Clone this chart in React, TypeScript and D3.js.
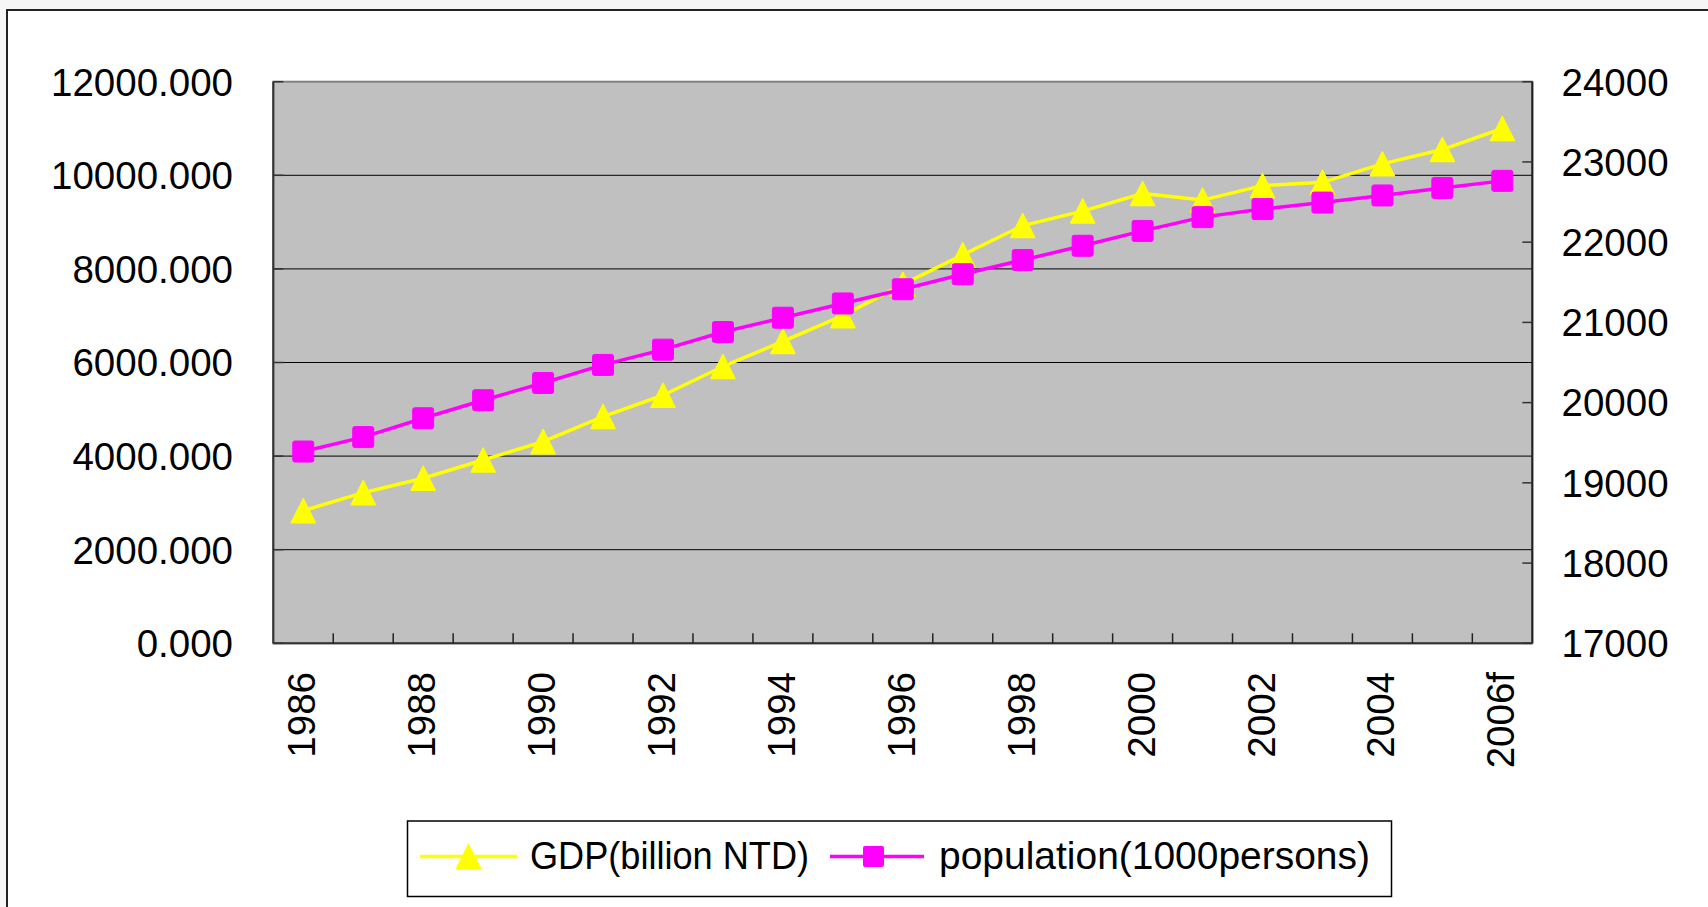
import React from "react";
import * as d3 from "d3";

const years = ["1986","1987","1988","1989","1990","1991","1992","1993","1994","1995","1996","1997","1998","1999","2000","2001","2002","2003","2004","2005","2006f"];
const gdp = [2833, 3218, 3526, 3917, 4308, 4845, 5300, 5915, 6450, 7000, 7670, 8300, 8925, 9235, 9610, 9470, 9780, 9850, 10245, 10550, 11000];
const population = [19390, 19570, 19805, 20030, 20245, 20470, 20660, 20880, 21058, 21236, 21413, 21600, 21777, 21955, 22140, 22312, 22412, 22493, 22582, 22676, 22764];
const leftTicks = [0, 2000, 4000, 6000, 8000, 10000, 12000];
const rightTicks = [17000, 18000, 19000, 20000, 21000, 22000, 23000, 24000];
const shownYears = ["1986","1988","1990","1992","1994","1996","1998","2000","2002","2004","2006f"];
const seriesNames = ["GDP(billion NTD)", "population(1000persons)"];

const W = 1708, H = 907;
const PL = 273.3, PR = 1532.3, PT = 81.7, PB = 643.3;
const FONT = "'Liberation Sans', Arial, sans-serif";

function triPath(cx: number, cy: number) {
  const w = 24, h = 24;
  return `M${cx},${cy - h / 2}L${cx + w / 2},${cy + h / 2}L${cx - w / 2},${cy + h / 2}Z`;
}

export default function App() {
  const x = d3.scaleBand<string>().domain(years).range([PL, PR]);
  const xc = (y: string) => (x(y) as number) + x.bandwidth() / 2;
  const yL = d3.scaleLinear().domain([0, 12000]).range([PB, PT]);
  const yR = d3.scaleLinear().domain([17000, 24000]).range([PB, PT]);

  const gdpLine = d3.line<number>().x((_, i) => xc(years[i])).y((d) => yL(d))(gdp) || "";
  const popLine = d3.line<number>().x((_, i) => xc(years[i])).y((d) => yR(d))(population) || "";

  const boundaries = years.map((y) => x(y) as number).slice(1);

  return (
    <svg width={W} height={H} style={{ position: "absolute", left: 0, top: 0, display: "block" }} fontFamily={FONT}>
      <rect x={0} y={0} width={W} height={H} fill="#f6f6f6" />
      <rect x={7} y={10} width={W + 20} height={H + 20} fill="#ffffff" stroke="#222" strokeWidth={2} />

      {/* plot area */}
      <rect x={PL} y={PT} width={PR - PL} height={PB - PT} fill="#c0c0c0" stroke="#808080" strokeWidth={2} />
      {leftTicks.slice(1, -1).map((t) => (
        <line key={"g" + t} x1={PL} x2={PR} y1={yL(t)} y2={yL(t)} stroke="#000" strokeWidth={1} />
      ))}

      {/* axes */}
      <line x1={PL} x2={PL} y1={PT} y2={PB} stroke="#333" strokeWidth={2} />
      <line x1={PR} x2={PR} y1={PT} y2={PB} stroke="#222" strokeWidth={2} />
      <line x1={PL} x2={PR} y1={PB} y2={PB} stroke="#333" strokeWidth={2} />
      {leftTicks.map((t) => (
        <line key={"lt" + t} x1={PL} x2={PL + 10} y1={yL(t)} y2={yL(t)} stroke="#333" strokeWidth={1.5} />
      ))}
      {rightTicks.map((t) => (
        <line key={"rt" + t} x1={PR - 10} x2={PR} y1={yR(t)} y2={yR(t)} stroke="#333" strokeWidth={1.5} />
      ))}
      {boundaries.map((b, i) => (
        <line key={"xt" + i} x1={b} x2={b} y1={PB - 10} y2={PB} stroke="#222" strokeWidth={1.5} />
      ))}

      {/* axis labels */}
      {leftTicks.map((t) => (
        <text key={"ll" + t} x={233} y={yL(t)} dy="0.36em" textAnchor="end" fontSize={38.5} fill="#000">
          {d3.format(".3f")(t)}
        </text>
      ))}
      {rightTicks.map((t) => (
        <text key={"rl" + t} x={1561.5} y={yR(t)} dy="0.36em" textAnchor="start" fontSize={38.5} fill="#000">
          {String(t)}
        </text>
      ))}
      {shownYears.map((yv) => (
        <text key={"xl" + yv} transform={`translate(${xc(yv) + 12},672) rotate(-90)`} textAnchor="end" fontSize={38.5} fill="#000">
          {yv}
        </text>
      ))}

      {/* GDP series */}
      <path d={gdpLine} fill="none" stroke="#ffff00" strokeWidth={3.5} strokeLinejoin="round" />
      {gdp.map((v, i) => (
        <path key={"gm" + i} d={triPath(xc(years[i]), yL(v))} fill="#ffff00" stroke="#ffff00" strokeWidth={1.5} strokeLinejoin="round" />
      ))}

      {/* population series */}
      <path d={popLine} fill="none" stroke="#ff00ff" strokeWidth={3.5} strokeLinejoin="round" />
      {population.map((v, i) => (
        <rect key={"pm" + i} x={xc(years[i]) - 10.5} y={yR(v) - 10.5} width={21} height={21} rx={2} fill="#ff00ff" stroke="#ff00ff" strokeWidth={1} />
      ))}

      {/* legend */}
      <rect x={407.5} y={821} width={984} height={75.5} fill="#ffffff" stroke="#000" strokeWidth={1.5} />
      <line x1={420} x2={517} y1={856.5} y2={856.5} stroke="#ffff00" strokeWidth={3.5} />
      <path d={triPath(468.5, 856.5)} fill="#ffff00" stroke="#ffff00" strokeWidth={1.5} strokeLinejoin="round" />
      <text x={530} y={869} fontSize={38.5} fill="#000" textLength={279} lengthAdjust="spacingAndGlyphs">{seriesNames[0]}</text>
      <line x1={830} x2={924} y1={856.5} y2={856.5} stroke="#ff00ff" strokeWidth={3.5} />
      <rect x={863} y={846} width={21} height={21} rx={2} fill="#ff00ff" />
      <text x={939} y={869} fontSize={38.5} fill="#000" textLength={431} lengthAdjust="spacingAndGlyphs">{seriesNames[1]}</text>
    </svg>
  );
}
